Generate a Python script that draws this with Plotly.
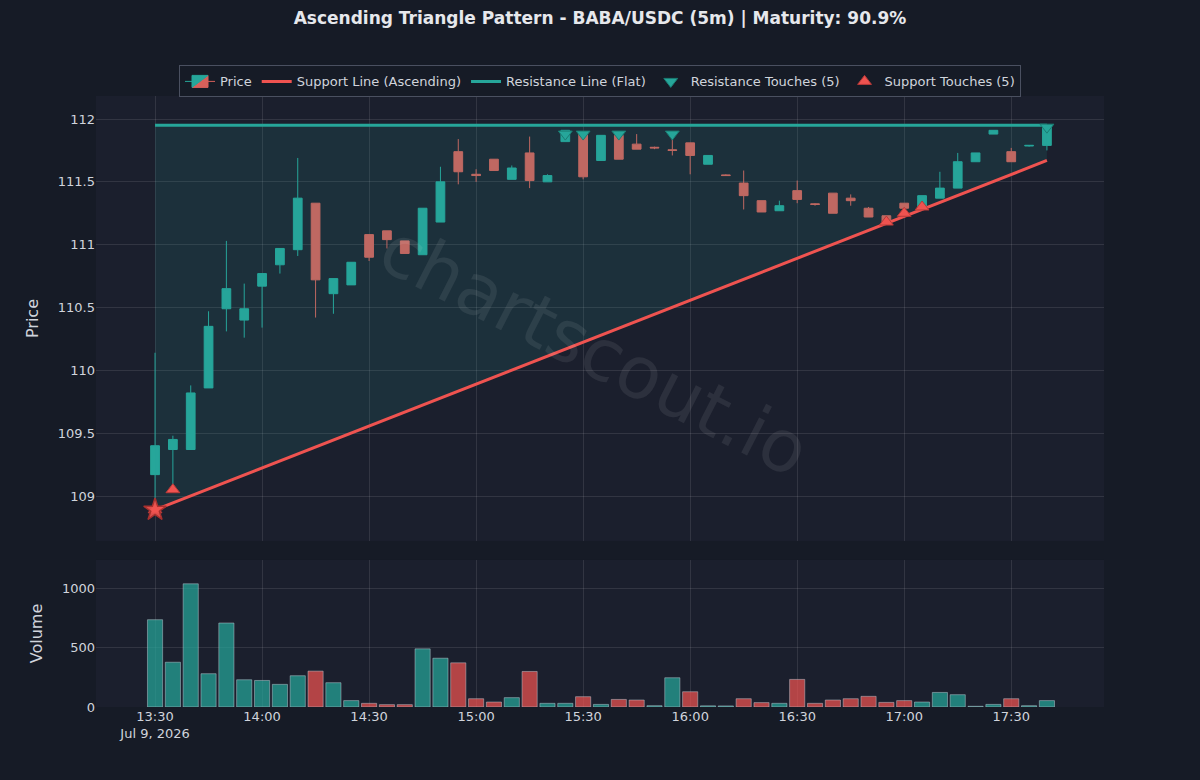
import pandas as pd
import plotly.graph_objects as go
from plotly.subplots import make_subplots

# ---------------- data ----------------
start_time = "2026-07-09 13:30"
opens = [109.17, 109.37, 109.37, 109.86, 110.49, 110.40, 110.67, 110.84, 110.96, 111.33,
         110.61, 110.68, 111.08, 111.11, 111.03, 110.92, 111.18, 111.74, 111.56, 111.68,
         111.52, 111.73, 111.50, 111.82, 111.89, 111.67, 111.87, 111.80, 111.775, 111.755,
         111.81, 111.64, 111.555, 111.49, 111.35, 111.27, 111.43, 111.325, 111.41, 111.37,
         111.29, 111.23, 111.33, 111.30, 111.37, 111.45, 111.66, 111.88, 111.74, 111.785,
         111.79]
closes = [109.40, 109.45, 109.82, 110.35, 110.65, 110.49, 110.77, 110.97, 111.37, 110.72,
          110.73, 110.86, 110.90, 111.04, 110.93, 111.29, 111.50, 111.58, 111.55, 111.59,
          111.61, 111.51, 111.55, 111.91, 111.54, 111.87, 111.68, 111.76, 111.77, 111.75,
          111.71, 111.71, 111.55, 111.39, 111.26, 111.31, 111.36, 111.32, 111.25, 111.35,
          111.22, 111.18, 111.29, 111.39, 111.45, 111.66, 111.73, 111.91, 111.66, 111.79,
          111.94]
highs = [110.14, 109.48, 109.88, 110.47, 111.03, 110.69, 110.77, 110.97, 111.69, 111.33,
         110.73, 110.86, 111.08, 111.11, 111.03, 111.29, 111.62, 111.84, 111.60, 111.68,
         111.63, 111.86, 111.56, 111.91, 111.89, 111.87, 111.88, 111.88, 111.78, 111.85,
         111.81, 111.71, 111.56, 111.59, 111.35, 111.35, 111.51, 111.33, 111.41, 111.40,
         111.30, 111.23, 111.33, 111.39, 111.58, 111.73, 111.73, 111.91, 111.77, 111.79,
         111.95]
lows = [108.90, 109.07, 109.37, 109.86, 110.31, 110.26, 110.34, 110.77, 110.91, 110.42,
        110.45, 110.68, 110.87, 110.97, 110.93, 110.92, 111.18, 111.48, 111.50, 111.59,
        111.52, 111.45, 111.50, 111.82, 111.52, 111.67, 111.68, 111.76, 111.76, 111.71,
        111.56, 111.64, 111.55, 111.28, 111.26, 111.27, 111.33, 111.31, 111.25, 111.31,
        111.22, 111.17, 111.25, 111.30, 111.37, 111.45, 111.66, 111.88, 111.66, 111.78,
        111.75]
volumes = [737, 378, 1040, 281, 709, 230, 224, 191, 264, 303,
           205, 54, 31, 20, 20, 491, 412, 373, 70, 42,
           79, 300, 31, 31, 87, 22, 64, 59, 11, 247,
           129, 10, 9, 70, 37, 31, 233, 31, 59, 70,
           90, 39, 54, 42, 123, 104, 6, 22, 70, 11,
           54]
volume_up = [1, 1, 1, 1, 1, 1, 1, 1, 1, 0,
             1, 1, 0, 0, 0, 1, 1, 0, 0, 0,
             1, 0, 1, 1, 0, 1, 0, 0, 1, 1,
             0, 1, 1, 0, 0, 1, 0, 0, 0, 0,
             0, 0, 0, 1, 1, 1, 1, 1, 0, 1,
             1]

support_start = 108.89
support_end = 111.67
resistance_level = 111.95
resistance_touch_idx = [23, 24, 26, 29, 50]
resistance_touch_price = [111.88, 111.88, 111.88, 111.88, 111.935]
support_touch_idx = [0, 1, 41, 42, 43]
support_touch_price = [108.89, 109.05, 111.18, 111.25, 111.30]

title_text = "Ascending Triangle Pattern - BABA/USDC (5m) | Maturity: 90.9%"
watermark = "chartscout.io"

# ---------------- derived ----------------
times = pd.date_range(start_time, periods=len(opens), freq="5min")
t0, t1 = times[0], times[-1]

GREEN = "#26a69a"
RED = "#ef5350"
BG = "#161b26"
PLOT_BG = "#1b1f2d"
GRID = "rgba(255,255,255,0.10)"
TXT = "#d0d4dc"

fig = make_subplots(rows=2, cols=1, shared_xaxes=True, vertical_spacing=0.03,
                    row_heights=[0.75, 0.25])

# triangle fill
fig.add_trace(go.Scatter(
    x=[t0, t1, t1, t0],
    y=[resistance_level, resistance_level, support_end, support_start],
    fill="toself", fillcolor="rgba(38,166,154,0.13)", mode="lines",
    line=dict(width=0), hoverinfo="skip", showlegend=False), row=1, col=1)

fig.add_trace(go.Candlestick(
    x=times, open=opens, high=highs, low=lows, close=closes, name="Price",
    increasing=dict(line=dict(color=GREEN, width=1), fillcolor=GREEN),
    decreasing=dict(line=dict(color="#d6605a", width=1), fillcolor="#d6605a"),
    whiskerwidth=0, opacity=1), row=1, col=1)

fig.add_trace(go.Scatter(
    x=[t0, t1], y=[support_start, support_end], mode="lines",
    line=dict(color=RED, width=3), name="Support Line (Ascending)"), row=1, col=1)

fig.add_trace(go.Scatter(
    x=[t0, t1], y=[resistance_level, resistance_level], mode="lines",
    line=dict(color=GREEN, width=3), name="Resistance Line (Flat)"), row=1, col=1)

fig.add_trace(go.Scatter(
    x=[times[i] for i in resistance_touch_idx], y=resistance_touch_price, mode="markers",
    marker=dict(symbol="triangle-down", size=12, color=GREEN,
                line=dict(color="#1a7d73", width=1)),
    name="Resistance Touches (5)"), row=1, col=1)

fig.add_trace(go.Scatter(
    x=[times[i] for i in support_touch_idx], y=support_touch_price, mode="markers",
    marker=dict(symbol="triangle-up", size=12, color=RED,
                line=dict(color="#b83a38", width=1)),
    name="Support Touches (5)"), row=1, col=1)

fig.add_trace(go.Scatter(
    x=[t0], y=[support_start], mode="markers",
    marker=dict(symbol="star", size=17, color="rgba(239,83,80,0.9)",
                line=dict(color="#a8302e", width=1.5)),
    showlegend=False, hoverinfo="skip"), row=1, col=1)

vol_colors = ["rgba(38,166,154,0.72)" if u else "rgba(239,83,80,0.72)" for u in volume_up]
fig.add_trace(go.Bar(
    x=times, y=volumes, marker=dict(color=vol_colors,
                                    line=dict(color="rgba(200,210,220,0.45)", width=1)),
    showlegend=False, name="Volume"), row=2, col=1)

x_range = [pd.Timestamp("2026-07-09 13:13:27"), pd.Timestamp("2026-07-09 17:56:00")]

fig.update_layout(
    width=1200, height=780,
    paper_bgcolor=BG, plot_bgcolor=PLOT_BG,
    font=dict(family="DejaVu Sans", color=TXT, size=13),
    margin=dict(l=96, r=96, t=96, b=73),
    title=dict(text=f"<b>{title_text}</b>", x=0.5, xanchor="center", y=0.977,
               yanchor="middle", font=dict(size=17, color="#e6e8ec")),
    legend=dict(orientation="h", x=0.5, xanchor="center", y=1.05, yanchor="top",
                bgcolor="#161b26", bordercolor="#4a5060", borderwidth=1,
                font=dict(size=13, color=TXT)),
    bargap=0.15,
    showlegend=True,
)

fig.update_xaxes(range=x_range, gridcolor=GRID, showgrid=True, zeroline=False,
                 rangeslider=dict(visible=False), dtick=30 * 60 * 1000,
                 tick0="2026-07-09 13:30", showline=False)
fig.update_xaxes(showticklabels=False, row=1, col=1)
fig.update_xaxes(tickfont=dict(size=13, color=TXT), row=2, col=1)

fig.update_yaxes(range=[108.642, 112.183], gridcolor=GRID, zeroline=False,
                 dtick=0.5, title=dict(text="Price", font=dict(size=16, color=TXT)),
                 tickfont=dict(size=13, color=TXT), row=1, col=1)
fig.update_yaxes(range=[0, 1241], gridcolor=GRID, zeroline=False, dtick=500,
                 title=dict(text="Volume", font=dict(size=16, color=TXT)),
                 tickfont=dict(size=13, color=TXT), row=2, col=1)

fig.update_layout(
    xaxis=dict(domain=[0, 1]),
    yaxis=dict(domain=[0.2717, 1.0]),
    yaxis2=dict(domain=[0.0, 0.2406]),
)

fig.add_annotation(text=watermark, xref="paper", yref="paper", x=0.495, y=0.584,
                   showarrow=False, textangle=27,
                   font=dict(size=72, color="rgba(255,255,255,0.08)", family="DejaVu Sans"))

fig.write_html("out.html")
